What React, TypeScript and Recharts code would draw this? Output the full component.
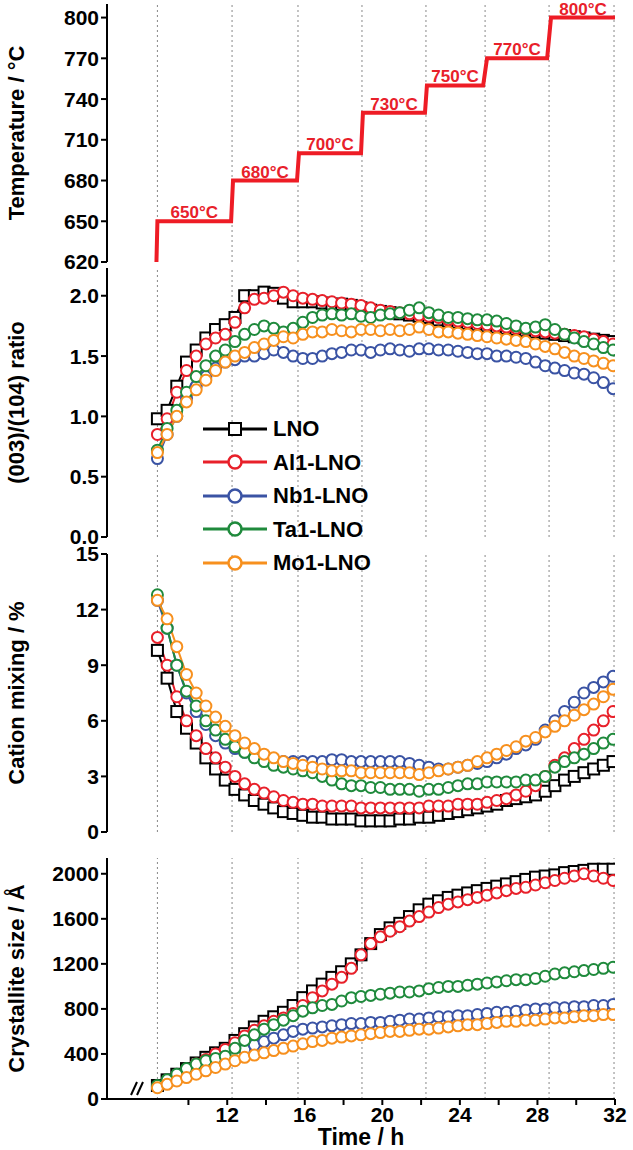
import React from 'react';
import { LineChart, Line, XAxis, YAxis, ReferenceLine, ReferenceDot } from 'recharts';

const times = [8.4,8.9,9.4,9.9,10.4,10.9,11.4,11.9,12.4,12.9,13.4,13.9,14.4,14.9,15.4,15.9,16.4,16.9,17.4,17.9,18.4,18.9,19.4,19.9,20.4,20.9,21.4,21.9,22.4,22.9,23.4,23.9,24.4,24.9,25.4,25.9,26.4,26.9,27.4,27.9,28.4,28.9,29.4,29.9,30.4,30.9,31.4,31.9];

const ratioLNO = [0.98,1.05,1.25,1.45,1.55,1.65,1.72,1.76,1.82,2.0,2.0,2.03,2.02,1.98,1.95,1.95,1.95,1.94,1.93,1.93,1.92,1.9,1.88,1.87,1.86,1.85,1.84,1.83,1.82,1.8,1.79,1.78,1.77,1.76,1.75,1.74,1.73,1.72,1.71,1.7,1.69,1.68,1.67,1.66,1.65,1.64,1.63,1.62];
const ratioAl = [0.85,0.98,1.2,1.38,1.5,1.6,1.65,1.68,1.78,1.9,1.97,1.98,2.0,2.03,2.0,1.98,1.97,1.96,1.95,1.94,1.93,1.92,1.9,1.88,1.87,1.86,1.85,1.84,1.83,1.82,1.8,1.79,1.78,1.77,1.76,1.75,1.74,1.73,1.72,1.71,1.7,1.69,1.68,1.67,1.66,1.64,1.62,1.6];
const ratioNb = [0.65,0.85,1.0,1.15,1.25,1.33,1.4,1.45,1.47,1.5,1.5,1.52,1.55,1.53,1.5,1.48,1.48,1.5,1.52,1.53,1.55,1.55,1.53,1.55,1.56,1.55,1.54,1.56,1.56,1.55,1.55,1.54,1.53,1.52,1.52,1.5,1.5,1.49,1.48,1.45,1.42,1.4,1.38,1.36,1.35,1.32,1.28,1.23];
const ratioTa = [0.72,0.9,1.05,1.2,1.33,1.42,1.5,1.55,1.62,1.68,1.72,1.75,1.73,1.7,1.73,1.78,1.82,1.84,1.85,1.84,1.85,1.83,1.82,1.84,1.85,1.86,1.88,1.9,1.86,1.84,1.82,1.82,1.81,1.8,1.8,1.79,1.77,1.75,1.73,1.74,1.76,1.72,1.68,1.65,1.62,1.6,1.57,1.55];
const ratioMo = [0.7,0.85,1.0,1.12,1.22,1.3,1.38,1.45,1.5,1.53,1.57,1.6,1.63,1.66,1.65,1.68,1.7,1.7,1.72,1.71,1.7,1.72,1.72,1.71,1.72,1.71,1.72,1.74,1.72,1.7,1.7,1.69,1.68,1.67,1.66,1.65,1.64,1.63,1.62,1.6,1.58,1.56,1.53,1.5,1.48,1.46,1.44,1.42];

const mixLNO = [9.8,8.3,6.5,5.6,4.8,4.0,3.4,2.8,2.3,2.0,1.7,1.5,1.3,1.1,1.0,0.9,0.8,0.8,0.7,0.7,0.7,0.6,0.6,0.6,0.6,0.7,0.7,0.8,0.8,0.9,1.0,1.1,1.2,1.3,1.4,1.5,1.7,1.8,1.9,2.0,2.2,2.5,2.8,3.0,3.2,3.4,3.6,3.8];
const mixAl = [10.5,9.0,7.3,6.0,5.2,4.5,4.0,3.5,3.0,2.6,2.3,2.1,1.9,1.7,1.6,1.5,1.5,1.4,1.4,1.4,1.4,1.3,1.3,1.3,1.3,1.3,1.3,1.3,1.4,1.4,1.4,1.5,1.5,1.5,1.6,1.7,1.8,2.0,2.2,2.5,3.0,3.6,4.0,4.5,5.0,5.5,6.0,6.5];
const mixNb = [12.5,11.0,9.0,7.5,6.5,5.8,5.2,4.8,4.5,4.3,4.1,4.0,3.9,3.8,3.8,3.8,3.8,3.8,3.9,3.9,3.8,3.8,3.8,3.8,3.8,3.8,3.7,3.6,3.5,3.4,3.4,3.5,3.6,3.7,3.8,4.0,4.2,4.5,4.7,5.0,5.5,6.0,6.5,7.0,7.5,7.8,8.1,8.4];
const mixTa = [12.8,11.0,9.0,7.6,6.8,6.0,5.5,5.0,4.6,4.3,4.0,3.8,3.6,3.5,3.4,3.3,3.2,3.0,2.8,2.6,2.5,2.5,2.4,2.4,2.3,2.3,2.3,2.2,2.3,2.3,2.4,2.5,2.6,2.6,2.7,2.7,2.7,2.7,2.8,2.8,3.0,3.5,3.8,4.0,4.2,4.5,4.8,5.0];
const mixMo = [12.5,11.5,10.0,8.5,7.5,6.8,6.2,5.7,5.2,4.8,4.5,4.2,4.0,3.8,3.7,3.6,3.5,3.4,3.3,3.3,3.3,3.2,3.2,3.2,3.2,3.2,3.2,3.1,3.2,3.3,3.4,3.5,3.6,3.8,4.0,4.2,4.4,4.6,4.9,5.1,5.4,5.7,6.0,6.3,6.6,6.9,7.3,7.7];

const sizeLNO = [120,170,220,270,320,370,410,450,520,580,640,690,730,770,830,900,960,1020,1080,1130,1200,1280,1380,1460,1520,1560,1620,1680,1730,1760,1790,1810,1830,1850,1870,1890,1910,1930,1950,1970,1980,1990,2010,2020,2030,2040,2040,2040];
const sizeAl = [110,160,210,260,310,350,400,440,500,560,610,650,690,720,760,830,900,960,1020,1080,1160,1280,1380,1440,1490,1530,1580,1620,1660,1700,1730,1750,1770,1790,1810,1830,1850,1870,1880,1900,1920,1940,1960,1980,2000,1980,1960,1940];
const sizeNb = [110,150,190,230,270,300,330,360,400,440,480,510,540,570,600,620,630,640,650,660,670,670,680,680,690,700,710,710,720,730,730,740,740,750,760,770,770,780,790,800,800,810,810,820,820,830,830,840];
const sizeTa = [120,170,220,270,310,340,360,380,450,520,570,620,660,700,740,780,810,830,840,870,900,910,920,930,940,950,950,960,980,990,1000,1000,1010,1020,1030,1040,1050,1060,1060,1070,1090,1110,1120,1130,1140,1150,1160,1170];
const sizeMo = [100,130,160,190,220,250,280,310,340,370,390,410,430,450,470,490,510,520,540,550,560,570,580,590,600,600,610,620,620,630,640,650,660,660,670,680,690,690,700,700,710,720,720,730,740,740,750,750];

const tempTimes = [8.35,8.4,12.2,12.3,15.6,15.7,18.9,19.0,22.2,22.3,25.2,25.4,28.5,28.7,32];
const tempValues = [620,650,650,680,680,700,700,730,730,750,750,770,770,800,800];
const stepLabelTimes = [10.3,13.95,17.3,20.6,23.75,26.95,30.35];
const stepLabelTemps = [650,680,700,730,750,770,800];
const stepLines = [8.4,12.25,15.65,18.95,22.25,25.3,28.6,31.95];

const names = ['LNO','Al1-LNO','Nb1-LNO','Ta1-LNO','Mo1-LNO'];
const colors = ['#000000','#e8202a','#3a53a4','#1f8a3c','#f7901e'];

const build = (arrs: number[][]) => times.map((t, i) => {
  const r: any = { t };
  names.forEach((n, k) => { r[n] = arrs[k][i]; });
  return r;
});
const ratioData = build([ratioLNO, ratioAl, ratioNb, ratioTa, ratioMo]);
const mixData = build([mixLNO, mixAl, mixNb, mixTa, mixMo]);
const sizeData = build([sizeLNO, sizeAl, sizeNb, sizeTa, sizeMo]);
const tempData = tempTimes.map((t, i) => ({ t, T: tempValues[i] }));

const FONT = '"Liberation Sans", Arial, sans-serif';
const W = 633;
const xDomain: [number, number] = [5.8, 32];
const tickStyle = { fontSize: 21, fontWeight: 700, fill: '#000', fontFamily: FONT };

const Square = (p: any) => (
  <rect key={p.index} x={p.cx - 5.5} y={p.cy - 5.5} width={11} height={11} fill="#fff" stroke="#000" strokeWidth={2} />
);

const series = () => names.map((n, k) => (
  <Line key={n} dataKey={n} type="linear" stroke={colors[k]} strokeWidth={2} isAnimationActive={false}
    dot={k === 0 ? Square : { r: 5.5, fill: '#fff', stroke: colors[k], strokeWidth: 2 }} />
));

const vLines = () => stepLines.map((x) => (
  <ReferenceLine key={x} x={x} stroke="#888" strokeDasharray="2 3" strokeWidth={1} />
));

const yLabel = (text: string) => ({
  value: text, angle: -90, position: 'insideLeft' as const, offset: 16,
  style: { fontSize: 22, fontWeight: 700, fill: '#000', fontFamily: FONT, textAnchor: 'middle' },
});

function Panel(props: any) {
  const { top, mt = 10, plotH, data, domain, ticks, fmt, label, bottom, children } = props;
  const mb = bottom ? 60 : 12;
  return (
    <div style={{ position: 'absolute', left: 0, top }}>
      <LineChart width={W} height={mt + plotH + mb} data={data}
        margin={{ top: mt, right: 18, bottom: bottom ? 0 : mb, left: 0 }}>
        <XAxis dataKey="t" type="number" domain={xDomain} allowDataOverflow hide={!bottom}
          ticks={[10,12,14,16,18,20,22,24,26,28,30,32]}
          tickFormatter={(v: number) => (v % 4 === 0 ? String(v) : '')}
          tick={tickStyle} stroke="#000" strokeWidth={2} tickSize={6} height={bottom ? mb : 0}
          label={bottom ? { value: 'Time / h', position: 'insideBottom', offset: 14, style: { fontSize: 23, fontWeight: 700, fill: '#000', fontFamily: FONT } } : undefined} />
        <YAxis type="number" domain={domain} ticks={ticks} allowDataOverflow width={107}
          tickFormatter={fmt} tick={tickStyle} stroke="#000" strokeWidth={2} tickSize={6} interval={0}
          label={yLabel(label)} />
        {vLines()}
        {children}
      </LineChart>
    </div>
  );
}

export default function App() {
  return (
    <div style={{ position: 'absolute', left: 0, top: 0, width: W, height: 1150, background: '#fff', fontFamily: FONT }}>
      <Panel top={0} mt={4} plotH={258} data={tempData} domain={[620, 810]} ticks={[620,650,680,710,740,770,800]} label="Temperature / °C">
        <Line dataKey="T" stroke="#ee1c25" strokeWidth={4} dot={false} isAnimationActive={false} />
        {stepLabelTimes.map((x, i) => (
          <ReferenceDot key={x} x={x} y={stepLabelTemps[i]} r={0}
            label={{ value: `${stepLabelTemps[i]}°C`, position: 'top', offset: 3, style: { fontSize: 17, fontWeight: 700, fill: '#e8202a', fontFamily: FONT } }} />
        ))}
      </Panel>
      <Panel top={258} plotH={269} data={ratioData} domain={[0, 2.23]} ticks={[0,0.5,1,1.5,2]} fmt={(v: number) => v.toFixed(1)} label="(003)/(104) ratio">
        {series()}
      </Panel>
      <Panel top={538} mt={16} plotH={278} data={mixData} domain={[0, 15]} ticks={[0,3,6,9,12,15]} label="Cation mixing / %">
        {series()}
      </Panel>
      <Panel top={848} plotH={241} data={sizeData} domain={[0, 2140]} ticks={[0,400,800,1200,1600,2000]} label="Crystallite size / Å" bottom>
        {series()}
      </Panel>
      <svg style={{ position: 'absolute', left: 0, top: 0, pointerEvents: 'none' }} width={W} height={1150}>
        <rect x={132} y={1080} width={14} height={16} fill="#fff" />
        <line x1={131} y1={1095} x2={137} y2={1082} stroke="#000" strokeWidth={2} />
        <line x1={137} y1={1095} x2={143} y2={1082} stroke="#000" strokeWidth={2} />
      </svg>
      <div style={{ position: 'absolute', left: 203, top: 412, lineHeight: '33.5px' }}>
        {names.map((n, k) => (
          <div key={n} style={{ display: 'flex', alignItems: 'center', height: 33.5 }}>
            <svg width={64} height={20}>
              <line x1={0} y1={10} x2={64} y2={10} stroke={colors[k]} strokeWidth={3} />
              {k === 0
                ? <rect x={26} y={4} width={12} height={12} fill="#fff" stroke="#000" strokeWidth={2} />
                : <circle cx={32} cy={10} r={6.5} fill="#fff" stroke={colors[k]} strokeWidth={2.5} />}
            </svg>
            <span style={{ fontSize: 22, fontWeight: 700, marginLeft: 6, color: '#000' }}>{n}</span>
          </div>
        ))}
      </div>
    </div>
  );
}
